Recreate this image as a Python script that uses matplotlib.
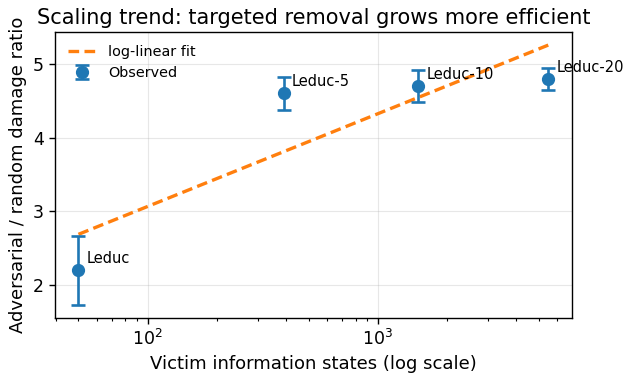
import numpy as np
import matplotlib
matplotlib.use("Agg")
import matplotlib.pyplot as plt
from matplotlib.ticker import MultipleLocator

# victim games, sizes and observed adversarial/random damage ratio
games      = ["Leduc", "Leduc-5", "Leduc-10", "Leduc-20"]
info_sets  = [50, 390, 1500, 5500]
ratio      = [2.2, 4.6, 4.7, 4.8]
ratio_err  = [0.47, 0.22, 0.22, 0.15]


def main():
    x = np.array(info_sets, dtype=float)
    y = np.array(ratio)

    # log-linear fit: ratio ~ a*log10(states) + b
    a, b = np.polyfit(np.log10(x), y, 1)
    xs = np.logspace(np.log10(x.min()), np.log10(x.max()), 100)

    fig = plt.figure(figsize=(6.29, 3.82), dpi=100)
    ax = fig.add_axes([0.0874, 0.168, 0.8216, 0.748])

    ax.plot(xs, a * np.log10(xs) + b, "--", color="C1", lw=2.4,
            dashes=(3.2, 1.6), label="log-linear fit")
    ax.errorbar(x, y, yerr=ratio_err, fmt="o", color="C0", ms=8.5,
                capsize=5, capthick=1.9, elinewidth=1.9, label="Observed")

    for g, xi, yi in zip(games, x, y):
        ax.annotate(g, (xi, yi), textcoords="offset points", xytext=(6, 5),
                    fontsize=10.5)

    ax.set_xscale("log")
    ax.yaxis.set_major_locator(MultipleLocator(1))
    ax.set_xlabel("Victim information states (log scale)", fontsize=13)
    ax.set_ylabel("Adversarial / random damage ratio", fontsize=13)
    ax.set_title("Scaling trend: targeted removal grows more efficient",
                 fontsize=15)
    ax.tick_params(labelsize=12.5, width=1, length=4.5)
    ax.tick_params(which="minor", width=0.8, length=2.5)
    for s in ax.spines.values():
        s.set_linewidth(1)
    ax.grid(True, alpha=0.3)
    ax.legend(loc="upper left", frameon=False, fontsize=10.4)

    fig.savefig("out.png", dpi=100)
    plt.close(fig)


if __name__ == "__main__":
    main()
